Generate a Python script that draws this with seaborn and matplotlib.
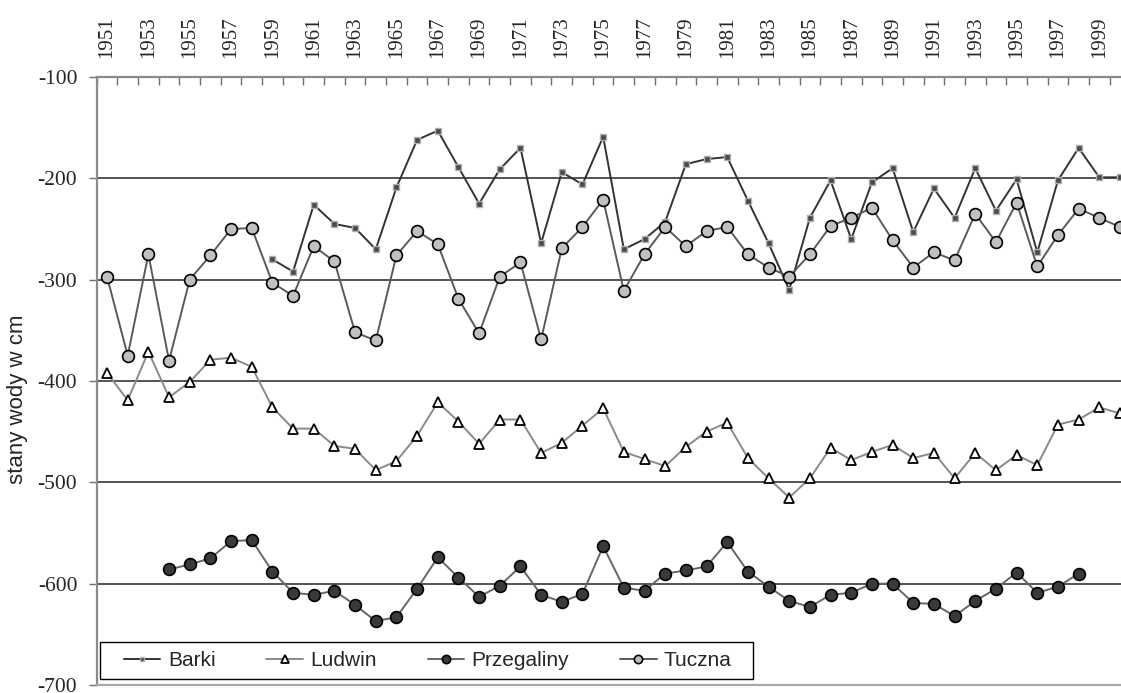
import numpy as np
import pandas as pd
import matplotlib
matplotlib.use("Agg")
import matplotlib.pyplot as plt
import seaborn as sns
from matplotlib.ticker import FixedLocator
from matplotlib.patches import Rectangle

nan = np.nan
years = list(range(1951, 2001))

barki = [nan] * 8 + [
    -280, -292, -226, -245, -249, -270, -209, -162, -153, -189,
    -225, -191, -170, -264, -194, -206, -159, -270, -260, -243,
    -186, -181, -179, -222, -264, -310, -239, -202, -260, -204,
    -190, -253, -210, -239, -190, -232, -201, -273, -202, -170,
    -199, -199,
]
ludwin = [
    -392, -419, -371, -416, -401, -379, -377, -386, -426, -447,
    -447, -464, -467, -488, -479, -454, -421, -440, -462, -438,
    -438, -471, -461, -444, -427, -470, -477, -484, -465, -450,
    -441, -476, -496, -515, -496, -466, -478, -470, -463, -476,
    -471, -496, -471, -488, -473, -483, -443, -438, -426, -432,
]
przegaliny = [nan] * 3 + [
    -586, -581, -575, -558, -557, -588, -609, -611, -607, -621,
    -637, -633, -605, -574, -594, -613, -602, -583, -611, -618,
    -610, -563, -604, -607, -590, -587, -583, -559, -588, -603,
    -617, -623, -611, -609, -600, -600, -619, -620, -632, -617,
    -605, -589, -609, -603, -590,
] + [nan] * 2
tuczna = [
    -297, -375, -275, -380, -300, -276, -250, -249, -303, -316,
    -267, -282, -352, -360, -276, -252, -265, -319, -353, -297,
    -283, -359, -269, -248, -221, -311, -275, -248, -267, -252,
    -248, -275, -288, -297, -275, -247, -239, -229, -261, -288,
    -273, -281, -235, -263, -224, -287, -256, -230, -239, -248,
]
y_ticks = [-100, -200, -300, -400, -500, -600, -700]
year_labels = [str(y) for y in range(1951, 2000, 2)]

sns.set_style("white")
plt.rcParams["font.family"] = ["Liberation Sans", "DejaVu Sans"]

W, H = 1121, 693
fig = plt.figure(figsize=(W / 100, H / 100), dpi=100)
ax = fig.add_axes([96.7 / W, 8 / H, (1130.3 - 96.7) / W, 608 / H])

styles = {
    "Barki": dict(data=barki, color="#333333", lw=1.4, marker="s", ms=5.0,
                  mfc="#4a4a4a", mec="#b0b0b0", mew=1.0),
    "Ludwin": dict(data=ludwin, color="#8a8a8a", lw=1.4, marker="^", ms=7.5,
                   mfc="white", mec="black", mew=1.3),
    "Przegaliny": dict(data=przegaliny, color="#666666", lw=1.4, marker="o", ms=8.5,
                       mfc="#3a3a3a", mec="black", mew=1.2),
    "Tuczna": dict(data=tuczna, color="#5a5a5a", lw=1.4, marker="o", ms=8.5,
                   mfc="#c0c0c0", mec="black", mew=1.2),
}

for name, st in styles.items():
    df = pd.DataFrame({"rok": years, "stan": st["data"]}).dropna()
    sns.lineplot(data=df, x="rok", y="stan", ax=ax, color=st["color"], lw=st["lw"],
                 marker=st["marker"], markersize=st["ms"], markerfacecolor=st["mfc"],
                 markeredgecolor=st["mec"], markeredgewidth=st["mew"], label=name,
                 zorder=3)

ax.set_xlim(1950.5, 2000.5)
ax.set_ylim(-700, -100)

# horizontal gridlines
for v in y_ticks[1:-1]:
    ax.axhline(v, color="#454545", lw=1.3, zorder=1)

# x axis on top: labels on odd years, tick marks at year boundaries
ax.xaxis.tick_top()
ax.xaxis.set_major_locator(FixedLocator(list(range(1951, 2000, 2))))
ax.set_xticklabels(year_labels, rotation=90, fontsize=15,
                   family=["Liberation Serif"])
ax.xaxis.set_minor_locator(FixedLocator(np.arange(1950.5, 2001, 1.0)))
ax.tick_params(axis="x", which="major", length=0, pad=14)
ax.tick_params(axis="x", which="minor", direction="in", length=6, width=1.0,
               color="#707070", top=True, bottom=False)

ax.set_yticks(y_ticks)
ax.set_yticklabels([str(v) for v in y_ticks], fontsize=15.5,
                   family=["Liberation Serif"])
ax.tick_params(axis="y", direction="out", length=6, width=1.0, color="#707070",
               left=True, pad=8)
ax.set_xlabel("")
ax.set_ylabel("stany wody w cm", fontsize=16)
ax.yaxis.set_label_coords(-0.0665, 0.47)

for side in ["top", "left"]:
    ax.spines[side].set_color("#8a8a8a")
    ax.spines[side].set_linewidth(1.6)
ax.spines["bottom"].set_color("#a8a8a8")
ax.spines["bottom"].set_linewidth(1.6)
ax.spines["right"].set_visible(False)

# legend entries without frame, frame drawn as a separate box behind them
leg = ax.legend(ncol=4, loc="center left", bbox_to_anchor=(124 / W, (H - 660.5) / H),
                bbox_transform=fig.transFigure, frameon=False, fontsize=15,
                handlelength=1.75, columnspacing=2.45, handletextpad=0.35,
                borderpad=0, borderaxespad=0)
for h in leg.get_lines():
    h.set_markersize(h.get_markersize() * 0.7)
leg.set_zorder(6)
ax.add_patch(Rectangle((100 / W, (H - 679) / H), 653 / W, 37 / H,
                       transform=fig.transFigure, facecolor="white",
                       edgecolor="black", lw=1.0, zorder=5, clip_on=False))

fig.savefig("out.png", dpi=100, facecolor="white")
